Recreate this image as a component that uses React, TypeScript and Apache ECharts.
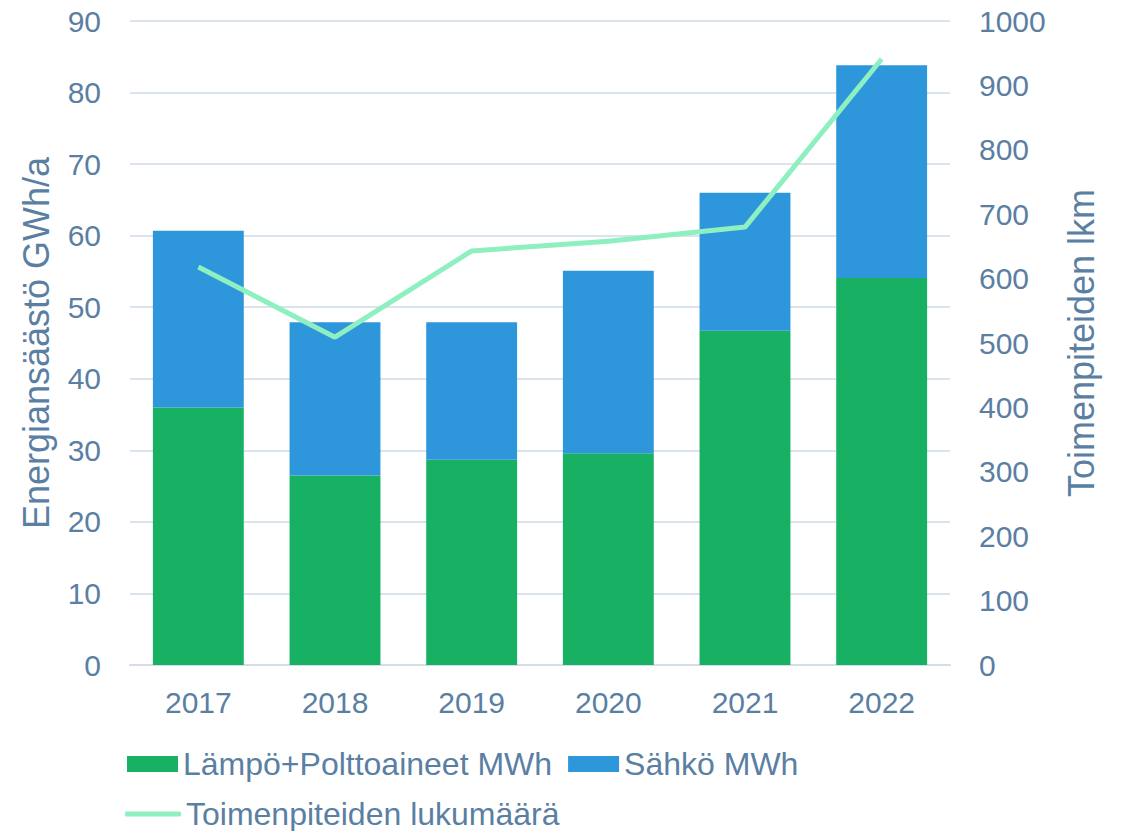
import React, { useEffect, useRef } from "react";
import * as echarts from "echarts";

const years = ["2017", "2018", "2019", "2020", "2021", "2022"];
const lampo = [36.0, 26.5, 28.7, 29.6, 46.7, 54.1];
const sahko = [24.7, 21.4, 19.2, 25.5, 19.3, 29.7];
const toimenpiteet = [618, 509, 643, 658, 680, 941];

const TEXT = "#5a7fa3";
const FONT = "'Liberation Sans', Arial, sans-serif";

export default function App() {
  const ref = useRef<HTMLDivElement>(null);
  useEffect(() => {
    const chart = echarts.init(ref.current!, null, { renderer: "svg" });
    chart.setOption({
      animation: false,
      textStyle: { fontFamily: FONT },
      grid: { left: 130, right: 171, top: 21, bottom: 166 },
      legend: [
        {
          left: 122,
          top: 743,
          itemWidth: 51,
          itemHeight: 16,
          itemGap: 16,
          itemStyle: { borderWidth: 0 },
          textStyle: { color: TEXT, fontSize: 32, fontFamily: FONT },
          data: [
            { name: "Lämpö+Polttoaineet MWh", icon: "rect" },
            { name: "Sähkö MWh", icon: "rect" },
          ],
        },
        {
          left: 120,
          top: 793,
          itemWidth: 56,
          itemHeight: 5,
          textStyle: { color: TEXT, fontSize: 32, fontFamily: FONT },
          data: [{ name: "Toimenpiteiden lukumäärä", icon: "roundRect" }],
        },
      ],
      xAxis: {
        type: "category",
        data: years,
        axisTick: { show: false },
        axisLine: { lineStyle: { color: "#d5dde6", width: 2 } },
        axisLabel: { color: TEXT, fontSize: 30, margin: 22, fontFamily: FONT },
      },
      yAxis: [
        {
          type: "value",
          min: 0,
          max: 90,
          interval: 10,
          name: "Energiansäästö GWh/a",
          nameLocation: "middle",
          nameGap: 76,
          nameTextStyle: { color: TEXT, fontSize: 36, fontFamily: FONT },
          axisLabel: { color: TEXT, fontSize: 30, margin: 29, fontFamily: FONT },
          axisLine: { show: false },
          axisTick: { show: false },
          splitLine: { lineStyle: { color: "#dbe3ec", width: 2 } },
        },
        {
          type: "value",
          min: 0,
          max: 1000,
          interval: 100,
          name: "Toimenpiteiden lkm",
          nameLocation: "middle",
          nameGap: 113,
          nameRotate: 90,
          nameTextStyle: { color: TEXT, fontSize: 36, fontFamily: FONT },
          axisLabel: { color: TEXT, fontSize: 30, margin: 29, fontFamily: FONT, formatter: (v: number) => String(v) },
          axisLine: { show: false },
          axisTick: { show: false },
          splitLine: { show: false },
        },
      ],
      series: [
        {
          name: "Lämpö+Polttoaineet MWh",
          type: "bar",
          stack: "e",
          data: lampo,
          barWidth: "66.5%",
          itemStyle: { color: "#18b063" },
        },
        {
          name: "Sähkö MWh",
          type: "bar",
          stack: "e",
          data: sahko,
          barWidth: "66.5%",
          itemStyle: { color: "#2e96db" },
        },
        {
          name: "Toimenpiteiden lukumäärä",
          type: "line",
          yAxisIndex: 1,
          data: toimenpiteet,
          symbol: "none",
          lineStyle: { color: "#8ef0c0", width: 5 },
          itemStyle: { color: "#8ef0c0" },
        },
      ],
    });
    return () => chart.dispose();
  }, []);
  return <div ref={ref} style={{ width: 1121, height: 831, position: "absolute", left: 0, top: 0 }} />;
}
